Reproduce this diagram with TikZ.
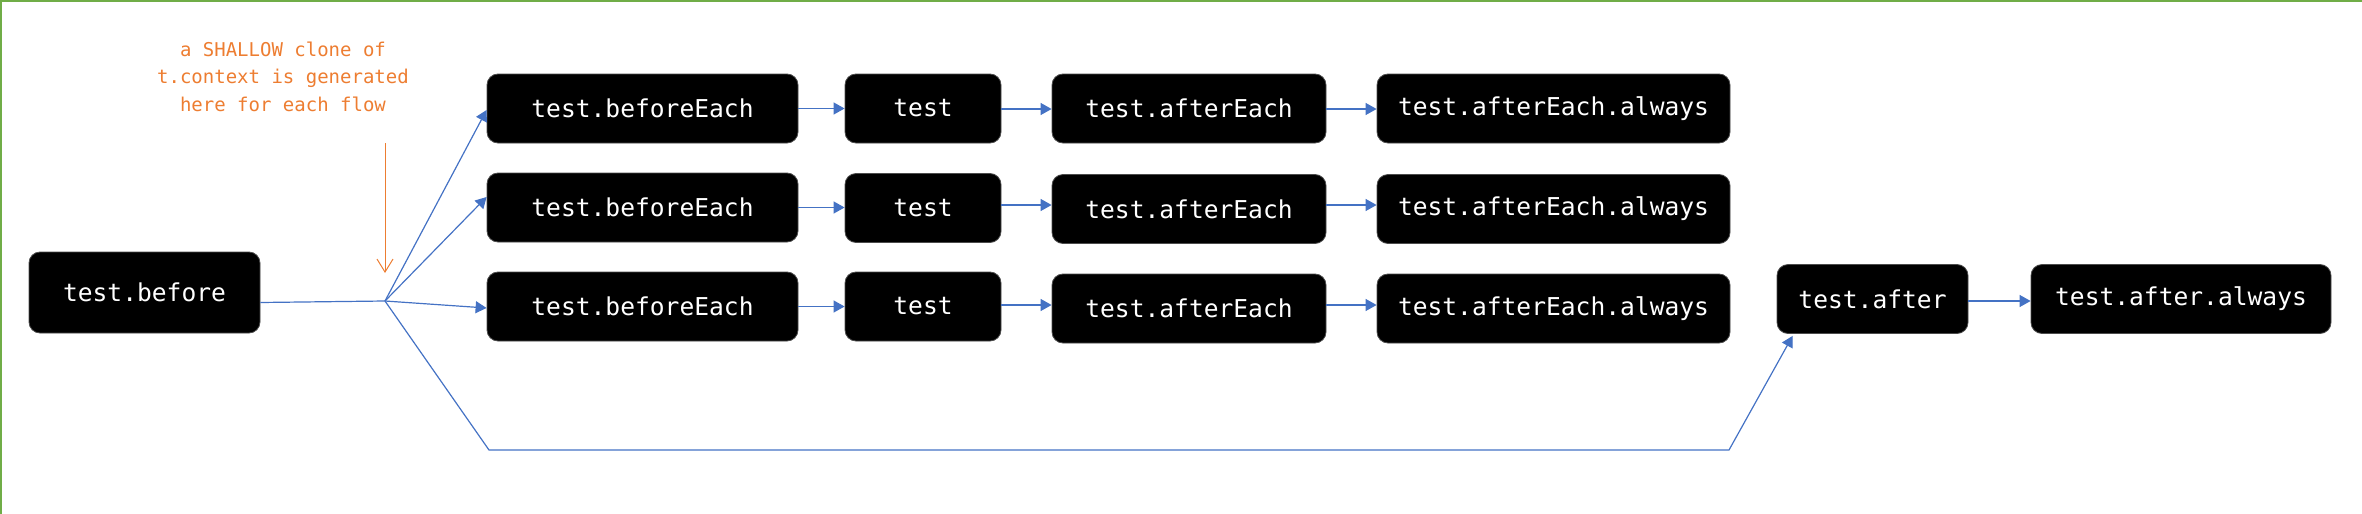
\documentclass[tikz,border=0pt]{standalone}
\usepackage{fontspec}
\setmonofont{DejaVu Sans Mono}
\usetikzlibrary{arrows.meta,calc}
\definecolor{flowblue}{HTML}{4472C4}
\definecolor{noteorange}{HTML}{ED7D31}
\definecolor{framegreen}{HTML}{70AD47}
\begin{document}
\begin{tikzpicture}[x=0.5pt,y=-0.5pt,
  box/.style={rectangle, rounded corners=5.5pt, fill=black, draw=black!70, line width=0.4pt,
    text=white, font=\ttfamily\fontsize{12.3}{14}\selectfont, inner sep=0pt, minimum height=34.5pt},
  flow/.style={draw=flowblue, line width=0.6pt, -{Triangle[length=5.5pt,width=6pt]}},
  flowline/.style={draw=flowblue, line width=0.6pt},
  notetext/.style={text=noteorange, font=\ttfamily\fontsize{9.5}{13.75}\selectfont, align=center, inner sep=0pt},
  notearrow/.style={draw=noteorange, line width=0.5pt, -{Straight Barb[length=6.5pt,width=8pt]}},
  frameline/.style={draw=framegreen, line width=1pt}]
\useasboundingbox (0,0) rectangle (2362,514);
\draw[frameline] (1,514) -- (1,1) -- (2362,1);

% nodes
\node[box, minimum width=115.5pt, minimum height=40.5pt] (before) at (144.5,292.5) {test.before};

\node[box, minimum width=155.5pt] (be1) at (642.5,108.5) {test.beforeEach};
\node[box, minimum width=155.5pt] (be2) at (642.5,207.5) {test.beforeEach};
\node[box, minimum width=155.5pt] (be3) at (642.5,306.5) {test.beforeEach};

\node[box, minimum width=78pt] (t1) at (923,108.5) {test};
\node[box, minimum width=78pt] (t2) at (923,208) {test};
\node[box, minimum width=78pt] (t3) at (923,306.5) {test};

\node[box, minimum width=137pt] (ae1) at (1189,108.5) {test.afterEach};
\node[box, minimum width=137pt] (ae2) at (1189,209) {test.afterEach};
\node[box, minimum width=137pt] (ae3) at (1189,308.5) {test.afterEach};

\node[box, minimum width=176.5pt] (aa1) at (1553.5,108.5) {test.afterEach.always};
\node[box, minimum width=176.5pt] (aa2) at (1553.5,209) {test.afterEach.always};
\node[box, minimum width=176.5pt] (aa3) at (1553.5,308.5) {test.afterEach.always};

\node[box, minimum width=95.5pt] (after) at (1872.5,299) {test.after};
\node[box, minimum width=150pt] (afteralways) at (2181,299) {test.after.always};

\node[notetext] (note) at (283,76.5) {a SHALLOW clone of\\t.context is generated\\here for each flow};

% coordinates
\coordinate (branch) at (385,301);
\coordinate (ntop) at (385,143);
\coordinate (ntip) at (385,273);
\coordinate (bl) at (489,450);
\coordinate (br) at (1729,450);

% note arrow
\draw[notearrow] (ntop) -- (ntip);

% fan-out
\draw[flowline] ($(before.east)+(0,10)$) -- (branch);
\draw[flow] (branch) -- ($(be1.west)+(0,1.5)$);
\draw[flow] (branch) -- ($(be2.west)+(0,-10.5)$);
\draw[flow] (branch) -- ($(be3.west)+(0,1.5)$);
\draw[flow] (branch) -- (bl) -- (br) -- ($(after.south west)+(16,2)$);

% rows
\draw[flow] (be1.east) -- (be1.east -| t1.west);
\draw[flow] (be2.east) -- (be2.east -| t2.west);
\draw[flow] (be3.east) -- (be3.east -| t3.west);
\draw[flow] ($(t1.east)+(0,0.5)$) -- ($(t1.east -| ae1.west)+(0,0.5)$);
\draw[flow] ($(t2.east)+(0,-3)$) -- ($(t2.east -| ae2.west)+(0,-3)$);
\draw[flow] ($(t3.east)+(0,-1.5)$) -- ($(t3.east -| ae3.west)+(0,-1.5)$);
\draw[flow] ($(ae1.east)+(0,0.5)$) -- ($(ae1.east -| aa1.west)+(0,0.5)$);
\draw[flow] ($(ae2.east)+(0,-4)$) -- ($(ae2.east -| aa2.west)+(0,-4)$);
\draw[flow] ($(ae3.east)+(0,-3.5)$) -- ($(ae3.east -| aa3.west)+(0,-3.5)$);
\draw[flow] ($(after.east)+(0,2)$) -- ($(after.east -| afteralways.west)+(0,2)$);
\end{tikzpicture}
\end{document}
